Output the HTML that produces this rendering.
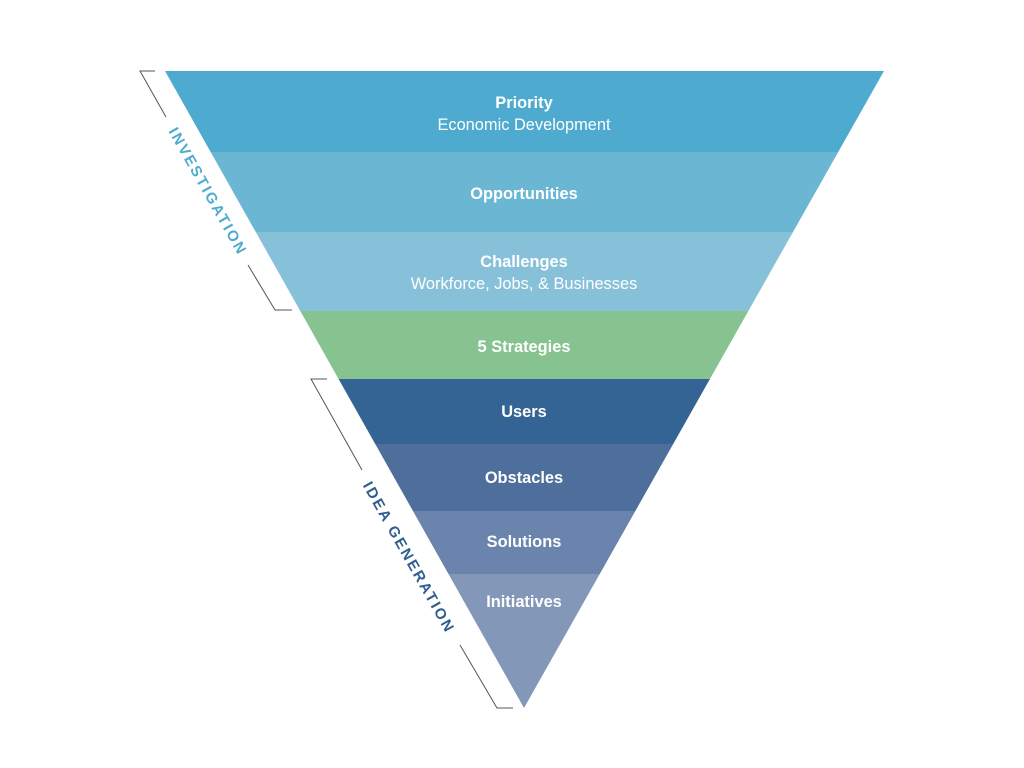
<!DOCTYPE html>
<html><head><meta charset="utf-8"><style>html,body{margin:0;padding:0;background:#fff}svg{display:block}</style></head>
<body>
<svg width="1024" height="768" viewBox="0 0 1024 768" xmlns="http://www.w3.org/2000/svg" font-family="Liberation Sans, sans-serif">
<defs><clipPath id="tri"><polygon points="165,71 884,71 524,708"/></clipPath></defs>
<g clip-path="url(#tri)">
<rect x="0" y="71" width="1024" height="81" fill="#4eabcf"/>
<rect x="0" y="152" width="1024" height="80" fill="#6bb6d3"/>
<rect x="0" y="232" width="1024" height="79" fill="#87c1d9"/>
<rect x="0" y="311" width="1024" height="68" fill="#87c391"/>
<rect x="0" y="379" width="1024" height="65" fill="#336493"/>
<rect x="0" y="444" width="1024" height="67" fill="#4e6f9c"/>
<rect x="0" y="511" width="1024" height="63" fill="#6a84ad"/>
<rect x="0" y="574" width="1024" height="140" fill="#8398b9"/>
</g>
<g fill="#fff" text-anchor="middle" font-size="16.4">
<text x="524" y="108" font-weight="bold">Priority</text>
<text x="524" y="130">Economic Development</text>
<text x="524" y="199" font-weight="bold">Opportunities</text>
<text x="524" y="267" font-weight="bold">Challenges</text>
<text x="524" y="289">Workforce, Jobs, &amp; Businesses</text>
<text x="524" y="352" font-weight="bold">5 Strategies</text>
<text x="524" y="417" font-weight="bold">Users</text>
<text x="524" y="483" font-weight="bold">Obstacles</text>
<text x="524" y="547" font-weight="bold">Solutions</text>
<text x="524" y="607" font-weight="bold">Initiatives</text>
</g>
<g stroke="#555" stroke-width="1" fill="none">
<polyline points="155,71 140,71 166,117"/>
<polyline points="248,265 275,310 292,310"/>
<polyline points="327,379 311,379 362,470"/>
<polyline points="460,645 497,708 513,708"/>
</g>
<text x="207" y="192" transform="rotate(60.6 207 192)" text-anchor="middle" dominant-baseline="middle" font-size="15" font-weight="bold" letter-spacing="2.2" fill="#4eabcf">INVESTIGATION</text>
<text x="408" y="558" transform="rotate(60.6 408 558)" text-anchor="middle" dominant-baseline="middle" font-size="15" font-weight="bold" letter-spacing="2.2" fill="#2f5e8f">IDEA GENERATION</text>
</svg>
</body></html>
